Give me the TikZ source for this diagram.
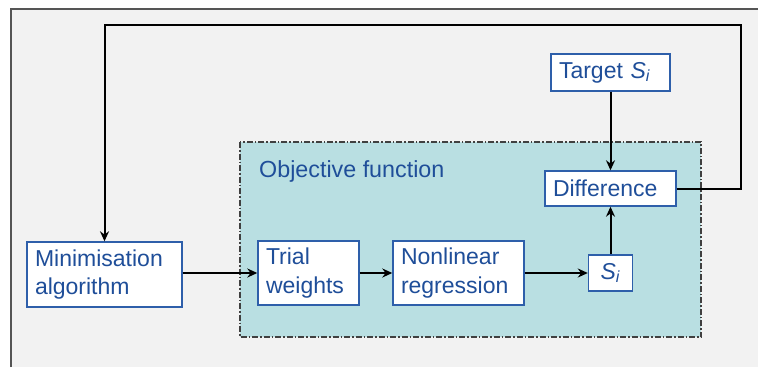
\documentclass[tikz,border=0pt]{standalone}
\usepackage{fontspec}
\setmainfont{Liberation Sans}
\usetikzlibrary{arrows.meta}
\definecolor{txtblue}{HTML}{1F4E99}
\definecolor{boxblue}{HTML}{2E5FAA}
\definecolor{panel}{HTML}{F2F2F2}
\definecolor{teal}{HTML}{B9DFE2}
\definecolor{frame}{HTML}{555555}
\tikzset{
  blk/.style={draw=boxblue, line width=1.4pt, fill=white, text=txtblue,
    font=\fontsize{23}{28.5}\selectfont, inner xsep=8pt, inner ysep=0pt,
    align=left, anchor=center},
  conn/.style={draw=black, line width=2pt, -{Stealth[length=10pt,width=9pt]}},
}
\begin{document}
\begin{tikzpicture}[x=1pt,y=-1pt]
\useasboundingbox (0,0) rectangle (758,367);
\fill[white] (0,0) rectangle (758,367);
\fill[panel] (11,9) rectangle (758,367);
\draw[frame, line width=1.8pt] (11,367) -- (11,9) -- (758,9);
% objective function region
\draw[fill=teal, draw=black!75, line width=1.1pt, dash pattern=on 6pt off 2pt on 1.5pt off 2pt] (240,142) rectangle (701,337);
\node[anchor=west, text=txtblue, font=\fontsize{23.3}{28.5}\selectfont, inner sep=0pt] (objlab) at (259,171) {Objective function};
% blocks
\node[blk, minimum width=155pt, minimum height=65pt, text width=139pt] (minim) at (104.5,274.5) {Minimisation\\algorithm};
\node[blk, minimum width=101pt, minimum height=64pt, text width=85pt] (trial) at (308.5,273) {Trial\\weights};
\node[blk, minimum width=131pt, minimum height=64pt, text width=115pt] (nonlin) at (458.5,273) {Nonlinear\\regression};
\node[blk, minimum width=44pt, minimum height=36pt, inner xsep=0pt, align=center] (si) at (610.5,273) {\textit{S}\textsubscript{\textit{i}}};
\node[blk, minimum width=131pt, minimum height=35pt, text width=115pt] (diff) at (610.5,188.5) {Difference};
\node[blk, minimum width=119pt, minimum height=37pt, text width=103pt] (target) at (610.5,72.5) {Target \textit{S}\textsubscript{\textit{i}}};
\coordinate (c1) at (741,188.5);
\coordinate (c2) at (741,25);
\coordinate (c3) at (104.5,25);
% connectors
\draw[conn] (minim.east |- trial.west) -- (trial.west);
\draw[conn] (trial.east) -- (nonlin.west);
\draw[conn] (nonlin.east) -- (si.west);
\draw[conn] (si.north) -- (diff.south);
\draw[conn] (target.south) -- (diff.north);
\draw[conn] (diff.east) -- (c1) -- (c2) -- (c3) -- (minim.north);
\end{tikzpicture}
\end{document}
